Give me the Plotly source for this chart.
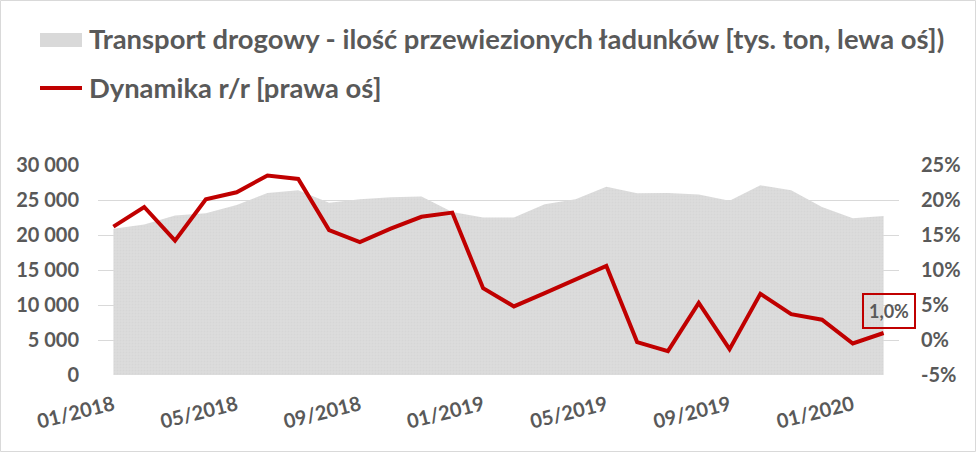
import plotly.graph_objects as go

months = ["01/2018","02/2018","03/2018","04/2018","05/2018","06/2018","07/2018","08/2018",
          "09/2018","10/2018","11/2018","12/2018","01/2019","02/2019","03/2019","04/2019",
          "05/2019","06/2019","07/2019","08/2019","09/2019","10/2019","11/2019","12/2019",
          "01/2020","02/2020"]
tonnage = [20900, 21500, 22800, 23100, 24300, 26000, 26400, 24600, 25100, 25400, 25500, 23300,
           22500, 22500, 24400, 25100, 26900, 25950, 26000, 25800, 24900, 27100, 26400, 24000,
           22400, 22700]
dynamics = [16.2, 19.0, 14.2, 20.1, 21.1, 23.5, 23.0, 15.7, 14.0, 15.9, 17.6, 18.2,
            7.4, 4.8, 6.7, 8.7, 10.6, -0.3, -1.6, 5.3, -1.3, 6.6, 3.7, 2.9, -0.5, 1.0]
last_label = "1,0%"

left_ticks = [0, 5000, 10000, 15000, 20000, 25000, 30000]
left_text = ["0", "5 000", "10 000", "15 000", "20 000", "25 000", "30 000"]
right_ticks = [-5, 0, 5, 10, 15, 20, 25]
right_text = ["-5%", "0%", "5%", "10%", "15%", "20%", "25%"]

name_area = "Transport drogowy - ilość przewiezionych ładunków [tys. ton, lewa oś])"
name_line = "Dynamika r/r [prawa oś]"

W, H = 976, 452
L, R, T, B = 98, 899, 165, 375

def px(x):
    return (x - L) / (R - L)

def py(y):
    return (B - y) / (B - T)

idx = list(range(len(months)))
grey = "#595959"
red = "#c00000"
fnt = "Lato"

fig = go.Figure()
fig.add_trace(go.Scatter(x=idx, y=tonnage, mode="lines", fill="tozeroy",
                         line=dict(width=0, color="#d9d9d9"), fillcolor="#dadada",
                         fillpattern=dict(shape=".", bgcolor="#dcdcdc", fgcolor="#cfcfcf",
                                          size=3, solidity=0.3),
                         name=name_area, showlegend=False, hoverinfo="skip"))
fig.add_trace(go.Scatter(x=idx, y=dynamics, mode="lines", yaxis="y2",
                         line=dict(width=4, color=red), name=name_line,
                         showlegend=False))

tickfont = dict(family=fnt, size=20, color=grey, weight="bold")
fig.update_layout(
    width=W, height=H,
    margin=dict(l=L, r=W - R, t=T, b=H - B),
    paper_bgcolor="white", plot_bgcolor="white",
    showlegend=False,
    xaxis=dict(range=[-0.5, len(months) - 0.5], tickvals=idx[::4],
               ticktext=months[::4], tickangle=-14, tickfont=tickfont,
               showgrid=False, zeroline=False, showline=False, ticks="",
               ticklabelstandoff=14),
    yaxis=dict(range=[0, 30000], tickvals=left_ticks, ticktext=left_text,
               tickfont=tickfont, showgrid=True, gridcolor="#d9d9d9", gridwidth=1,
               zeroline=False, ticks="", ticklabelstandoff=18),
    yaxis2=dict(range=[-5, 25], tickvals=right_ticks, ticktext=right_text,
                overlaying="y", side="right", tickfont=tickfont,
                showgrid=True, gridcolor="#d9d9d9", gridwidth=1,
                zeroline=False, ticks="", ticklabelstandoff=21),
)

# last value label
fig.add_annotation(x=idx[-1], y=dynamics[-1], xref="x", yref="y2", text=last_label,
                   showarrow=False, xshift=5, yshift=22,
                   font=dict(family=fnt, size=18, color=grey, weight="bold"),
                   bordercolor=red, borderwidth=2, borderpad=5,
                   bgcolor="rgba(0,0,0,0)")

# legend (manual)
fig.add_shape(type="rect", xref="paper", yref="paper",
              x0=px(40), x1=px(82), y0=py(47), y1=py(33),
              fillcolor="#d9d9d9", line=dict(width=0))
fig.add_shape(type="line", xref="paper", yref="paper",
              x0=px(40), x1=px(82), y0=py(88), y1=py(88),
              line=dict(color=red, width=4))
fig.add_annotation(xref="paper", yref="paper", x=px(87), y=py(39), text=name_area,
                   showarrow=False, xanchor="left", yanchor="middle",
                   font=dict(family=fnt, size=27.4, color=grey, weight="bold"))
fig.add_annotation(xref="paper", yref="paper", x=px(87), y=py(87), text=name_line,
                   showarrow=False, xanchor="left", yanchor="middle",
                   font=dict(family=fnt, size=27.4, color=grey, weight="bold"))

# outer border
fig.add_shape(type="rect", xref="paper", yref="paper",
              x0=px(0.5), x1=px(975.5), y0=py(451.5), y1=py(0.5),
              line=dict(color="#d9d9d9", width=1))

fig.write_html("out.html")
